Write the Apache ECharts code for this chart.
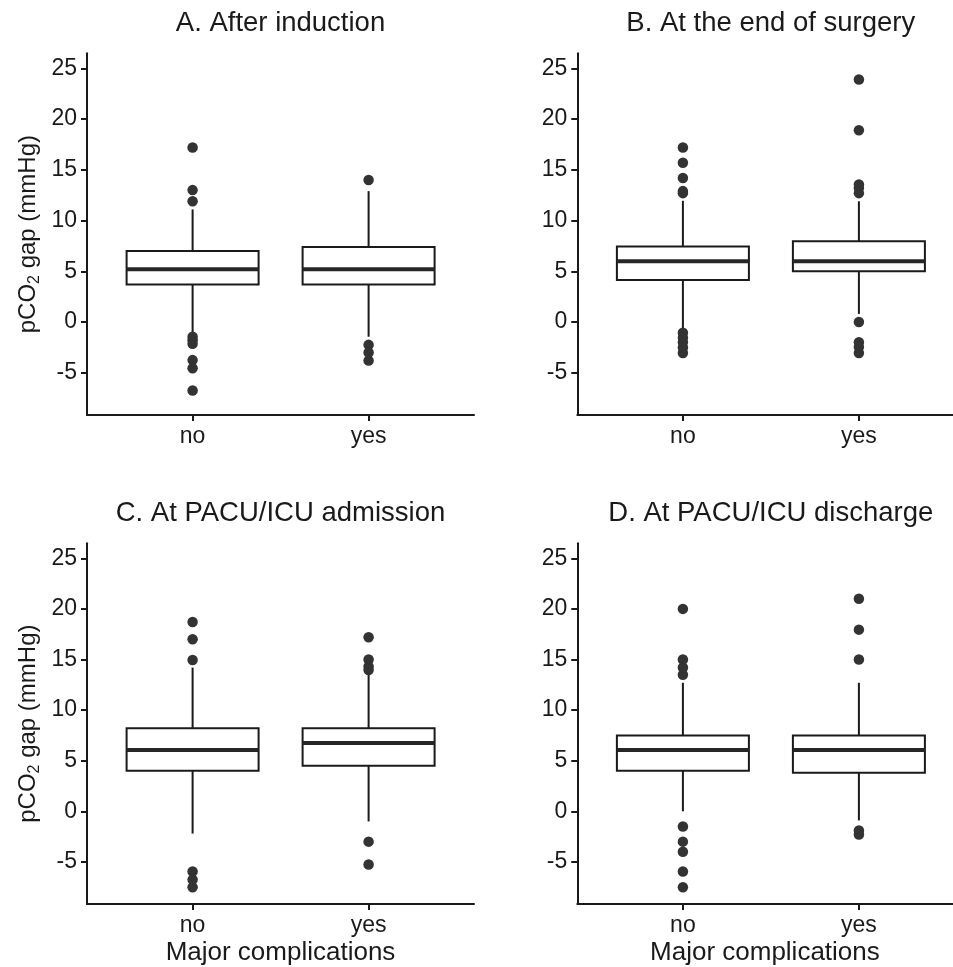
<!DOCTYPE html>
<html>
<head>
<meta charset="utf-8">
<script src="https://cdn.jsdelivr.net/npm/echarts@6/dist/echarts.min.js"></script>
<style>
html,body{margin:0;padding:0;background:#fff;}
#chart{width:953px;height:967px;}
</style>
</head>
<body>
<div id="chart"></div>
<script>
const categories = ['no', 'yes'];
const panelTitles = ['A. After induction', 'B. At the end of surgery', 'C. At PACU/ICU admission', 'D. At PACU/ICU discharge'];
const yTicks = [-5, 0, 5, 10, 15, 20, 25];
const xAxisTitle = 'Major complications';

// [lower whisker, Q1, median, Q3, upper whisker] for "no" and "yes"
const boxA = [[-1.25, 3.7, 5.2, 7.0, 11.1], [-1.45, 3.7, 5.2, 7.4, 12.9]];
const boxB = [[-0.8, 4.15, 6.0, 7.45, 11.95], [0.8, 5.0, 6.0, 7.95, 11.9]];
const boxC = [[-2.2, 4.0, 6.05, 8.2, 14.2], [-1.0, 4.5, 6.75, 8.2, 13.7]];
const boxD = [[0.0, 4.0, 6.05, 7.5, 12.7], [-0.9, 3.8, 6.05, 7.5, 12.7]];

// outliers
const outA_no = [17.2, 13.0, 11.9, -1.45, -1.8, -2.15, -3.75, -4.55, -6.75];
const outA_yes = [14.0, -2.25, -3.0, -3.8];
const outB_no = [17.2, 15.7, 14.2, 12.9, 12.7, -1.05, -1.55, -2.0, -2.5, -3.05];
const outB_yes = [23.9, 18.9, 13.55, 13.2, 12.7, 0.0, -2.0, -2.45, -3.05];
const outC_no = [18.7, 17.0, 14.95, -5.95, -6.75, -7.5];
const outC_yes = [17.2, 15.0, 14.3, 13.95, -3.0, -5.25];
const outD_no = [20.0, 15.0, 14.2, 13.5, -1.5, -3.0, -4.0, -5.95, -7.5];
const outD_yes = [21.0, 17.95, 15.0, -1.9, -2.3];

const boxes = [boxA, boxB, boxC, boxD];
const outliers = [[outA_no, outA_yes], [outB_no, outB_yes], [outC_no, outC_yes], [outD_no, outD_yes]];

const FONT = '"Liberation Sans", Arial, Helvetica, sans-serif';
const INK = '#1a1a1a';
const BOX_W = 0.75;
const Y_MIN = -9.16, Y_MAX = 26.48;
const PX_PER_CAT = 176;

const gridPos = [
  {left: 87, top: 53.3, width: 387},
  {left: 577.3, top: 53.3, width: 375.2},
  {left: 87, top: 543.3, width: 387},
  {left: 577.3, top: 543.3, width: 375.2}
];
const GH = 361.7;

function renderBox(params, api) {
  const x = api.value(0);
  const pLo = api.coord([x, api.value(1)]);
  const pQ1 = api.coord([x, api.value(2)]);
  const pMed = api.coord([x, api.value(3)]);
  const pQ3 = api.coord([x, api.value(4)]);
  const pHi = api.coord([x, api.value(5)]);
  const w = api.size([BOX_W, 0])[0];
  const cx = pMed[0];
  return {
    type: 'group',
    children: [
      {type: 'line', shape: {x1: cx, y1: pHi[1], x2: cx, y2: pQ3[1]}, style: {stroke: INK, lineWidth: 2}},
      {type: 'line', shape: {x1: cx, y1: pQ1[1], x2: cx, y2: pLo[1]}, style: {stroke: INK, lineWidth: 2}},
      {type: 'rect', shape: {x: cx - w / 2, y: pQ3[1], width: w, height: pQ1[1] - pQ3[1]}, style: {fill: '#fff', stroke: INK, lineWidth: 2}},
      {type: 'line', shape: {x1: cx - w / 2, y1: pMed[1], x2: cx + w / 2, y2: pMed[1]}, style: {stroke: '#262626', lineWidth: 4}}
    ]
  };
}

const grid = [], xAxis = [], yAxis = [], series = [], title = [];
for (let i = 0; i < 4; i++) {
  const g = gridPos[i];
  grid.push({left: g.left, top: g.top, width: g.width, height: GH, containLabel: false});
  title.push({
    text: panelTitles[i],
    left: g.left + 193.5,
    top: g.top - 44,
    textAlign: 'center',
    padding: 0,
    textStyle: {fontFamily: FONT, fontSize: 27.5, fontWeight: 'normal', color: INK}
  });
  const bottomRow = i >= 2;
  xAxis.push({
    gridIndex: i,
    type: 'value',
    min: -0.6,
    max: -0.6 + g.width / PX_PER_CAT,
    name: bottomRow ? xAxisTitle : '',
    nameLocation: 'middle',
    nameGap: 36,
    nameTextStyle: {fontFamily: FONT, fontSize: 26, color: INK, align: 'center'},
    splitLine: {show: false},
    axisLine: {show: true, onZero: false, lineStyle: {color: INK, width: 2}},
    axisTick: {show: true, customValues: [0, 1], length: 6, lineStyle: {color: INK, width: 2}},
    axisLabel: {customValues: [0, 1], formatter: v => categories[Math.round(v)], fontFamily: FONT, fontSize: 23, color: INK, margin: 10}
  });
  const leftCol = i % 2 === 0;
  yAxis.push({
    gridIndex: i,
    type: 'value',
    min: Y_MIN,
    max: Y_MAX,
    name: leftCol ? '{a|pCO}{s|2}{a| gap (mmHg)}' : '',
    nameLocation: 'middle',
    nameGap: 44,
    nameTextStyle: {
      fontFamily: FONT, fontSize: 24, color: INK,
      rich: {
        a: {fontFamily: FONT, fontSize: 24, color: INK, lineHeight: 30},
        s: {fontFamily: FONT, fontSize: 16, color: INK, lineHeight: 16, verticalAlign: 'bottom'}
      }
    },
    splitLine: {show: false},
    axisLine: {show: true, onZero: false, lineStyle: {color: INK, width: 2}},
    axisTick: {show: true, customValues: yTicks, length: 6, lineStyle: {color: INK, width: 2}},
    axisLabel: {customValues: yTicks, fontFamily: FONT, fontSize: 23, color: INK, margin: 10}
  });
  const boxData = boxes[i].map((b, k) => [k].concat(b));
  series.push({
    type: 'custom',
    xAxisIndex: i,
    yAxisIndex: i,
    renderItem: renderBox,
    encode: {x: 0, y: [1, 2, 3, 4, 5]},
    data: boxData,
    z: 2,
    clip: false,
    silent: true
  });
  const pts = [];
  outliers[i].forEach((arr, k) => arr.forEach(v => pts.push([k, v])));
  series.push({
    type: 'scatter',
    xAxisIndex: i,
    yAxisIndex: i,
    data: pts,
    symbol: 'circle',
    symbolSize: 10.5,
    itemStyle: {color: '#333333', opacity: 1},
    z: 3,
    silent: true
  });
}

const chart = echarts.init(document.getElementById('chart'), null, {renderer: 'canvas'});
chart.setOption({
  backgroundColor: '#ffffff',
  animation: false,
  title: title,
  grid: grid,
  xAxis: xAxis,
  yAxis: yAxis,
  series: series
});
</script>
</body>
</html>
